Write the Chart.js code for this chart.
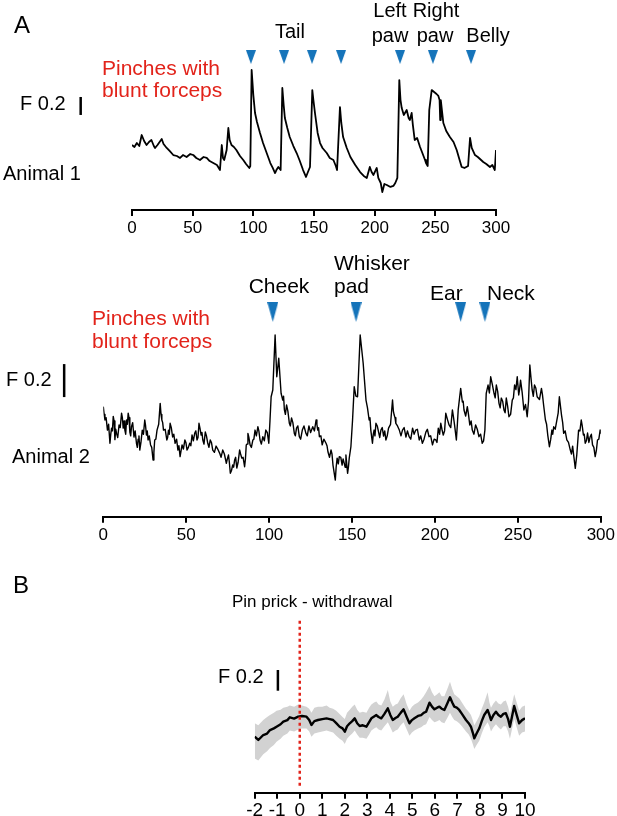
<html>
  <head>
    <title>pinch responses</title>
    <style>
      body {
        margin: 0;
        background: #fff;
        width: 617px;
        height: 816px;
        position: relative;
        overflow: hidden;
        font-family: Arial, 'Liberation Sans', Helvetica, sans-serif;
      }
      canvas {
        position: absolute;
        left: 0;
        top: 0;
      }
      .lbl {
        position: absolute;
        line-height: 1;
        white-space: nowrap;
        color: #000;
      }
    </style>
    <script src="https://cdn.jsdelivr.net/npm/chart.js@4.4.0/dist/chart.umd.min.js"></script>
    <script>
      // Animal 1 trace: [time (s), dF/F]
      const animal1Trace = [
        [0, 0.722], [2, 0.7], [4, 0.744], [6, 0.711], [8, 0.833], [10, 0.767], [12, 0.722], [14, 0.756],
        [16, 0.778], [18, 0.711], [19, 0.689], [21, 0.722], [24.5, 0.789], [26, 0.733], [28.6, 0.689],
        [31, 0.656], [34, 0.611], [37, 0.6], [39.6, 0.578], [42, 0.611], [45, 0.589], [48, 0.622], [50.5, 0.611],
        [53, 0.578], [56, 0.556], [59, 0.589], [61.6, 0.578], [64, 0.544], [67, 0.522], [70, 0.5], [72.5, 0.444],
        [74, 0.722], [75, 0.578], [76, 0.556], [78, 0.667], [79.4, 0.911], [80.5, 0.778], [82, 0.722], [84, 0.7],
        [86, 0.667], [89, 0.6], [91.7, 0.556], [94, 0.511], [96.7, 0.467], [97.5, 0.489], [98.6, 1.556],
        [100, 1.278], [101.4, 1.078], [103, 0.978], [105.5, 0.856], [108, 0.744], [111, 0.633], [114, 0.522],
        [116, 0.467], [117.9, 0.411], [119, 0.444], [120.6, 0.478], [122.5, 0.444], [123.9, 1.356], [125, 1.167],
        [126, 1.022], [128, 0.911], [130, 0.811], [133, 0.711], [135.7, 0.633], [138, 0.556], [141, 0.444],
        [143.4, 0.367], [145, 0.422], [146.7, 0.478], [148.6, 1.333], [149.5, 1.222], [150.8, 1.078], [153, 0.856],
        [155, 0.744], [157, 0.689], [160.5, 0.633], [163, 0.578], [166, 0.556], [168, 0.489], [169, 0.444],
        [171.4, 1.144], [172.5, 0.967], [174, 0.811], [177, 0.689], [180, 0.589], [184, 0.5], [188, 0.422],
        [191, 0.378], [193.5, 0.356], [196, 0.478], [197.5, 0.422], [199, 0.389], [201.7, 0.467], [203, 0.356],
        [205, 0.3], [206.3, 0.2], [208, 0.289], [210, 0.278], [213, 0.256], [215.4, 0.267], [217, 0.3],
        [218.7, 0.356], [220.3, 1.444], [221.3, 1.222], [222.3, 1.133], [224, 1.056], [226.4, 1.111], [228, 1.022],
        [229, 1.0], [230.5, 1.078], [231.5, 0.944], [233, 0.778], [235, 0.8], [237.4, 0.7], [239, 0.644],
        [241.5, 0.556], [242.3, 0.522], [243.7, 0.489], [245, 1.111], [247, 1.333], [249, 1.311], [251, 1.289],
        [252.5, 1.267], [253.5, 1.222], [254, 1.0], [254.5, 1.222], [256.6, 0.967], [259, 0.878], [262, 0.811],
        [265, 0.756], [267.6, 0.667], [270, 0.556], [271.7, 0.478], [274, 0.467], [277, 0.489], [278.6, 0.8],
        [280, 0.689], [282.7, 0.611], [285, 0.589], [289.5, 0.533], [292, 0.511], [295, 0.478], [297, 0.5],
        [299, 0.444], [300, 0.667]
      ];
      const animal1Pinch = [98, 125.3, 148.4, 172.3, 220.9, 248, 279.4];

      // Animal 2 trace: [time (s), dF/F]
      const animal2Trace = [
        [0, 0.667], [0.5, 0.62], [1, 0.586], [1.7, 0.6], [2.5, 0.525], [3.2, 0.56], [4, 0.445], [4.5, 0.5],
        [5, 0.537], [5.5, 0.52], [6, 0.608], [6.5, 0.58], [7, 0.467], [7.5, 0.53], [8, 0.505], [8.7, 0.48],
        [9.5, 0.556], [10.2, 0.54], [11, 0.627], [11.5, 0.6], [12, 0.537], [12.5, 0.58], [13, 0.525], [13.5, 0.5],
        [14, 0.586], [14.5, 0.56], [15, 0.627], [15.5, 0.6], [16, 0.513], [16.5, 0.49], [17, 0.545], [17.7, 0.57],
        [18.5, 0.483], [19.2, 0.52], [20, 0.445], [20.5, 0.42], [21, 0.47], [21.5, 0.49], [22, 0.404],
        [22.7, 0.45], [23.5, 0.525], [24.2, 0.5], [25, 0.586], [25.5, 0.55], [26, 0.495], [26.5, 0.52],
        [27, 0.465], [27.7, 0.49], [28.5, 0.435], [29.2, 0.42], [30, 0.344], [30.5, 0.39], [31, 0.465],
        [31.7, 0.47], [32.4, 0.525], [33.4, 0.56], [34.3, 0.687], [34.8, 0.62], [35.3, 0.586], [35.8, 0.57],
        [36.3, 0.525], [37.3, 0.53], [38.3, 0.465], [38.8, 0.48], [39.3, 0.525], [39.8, 0.5], [40.3, 0.566],
        [41, 0.54], [41.8, 0.483], [42.5, 0.5], [43.3, 0.445], [44.2, 0.47], [45, 0.404], [45.6, 0.43],
        [46.3, 0.364], [46.9, 0.4], [47.5, 0.435], [48.3, 0.41], [49.2, 0.465], [49.8, 0.45], [50.5, 0.404],
        [51.3, 0.42], [52.1, 0.445], [52.8, 0.43], [53.5, 0.495], [54.3, 0.46], [55.1, 0.505], [55.8, 0.52],
        [56.5, 0.465], [57.1, 0.48], [57.7, 0.566], [58.4, 0.53], [59, 0.495], [59.5, 0.51], [60, 0.465],
        [60.7, 0.44], [61.5, 0.513], [62.2, 0.49], [63, 0.445], [63.7, 0.42], [64.5, 0.465], [65.2, 0.45],
        [66, 0.404], [67, 0.39], [68, 0.428], [69, 0.41], [70.2, 0.384], [71, 0.36], [72, 0.404], [73, 0.38],
        [74.2, 0.324], [74.8, 0.35], [75.5, 0.374], [76, 0.33], [76.6, 0.263], [77.3, 0.28], [78, 0.313],
        [78.6, 0.3], [79.2, 0.344], [79.8, 0.36], [80.5, 0.295], [81.3, 0.33], [82.2, 0.404], [82.8, 0.38],
        [83.5, 0.355], [84.3, 0.36], [85.2, 0.303], [85.7, 0.35], [86.2, 0.435], [86.7, 0.44], [87.2, 0.505],
        [87.8, 0.48], [88.5, 0.435], [89.3, 0.42], [90.2, 0.465], [90.8, 0.47], [91.5, 0.525], [92.3, 0.49],
        [93.2, 0.545], [93.8, 0.52], [94.5, 0.465], [95.3, 0.44], [96.2, 0.485], [97.1, 0.46], [98, 0.525],
        [98.9, 0.51], [99.8, 0.445], [100.5, 0.58], [101.2, 0.727], [102.2, 0.768], [103.6, 1.101],
        [104.6, 0.848], [105.8, 0.96], [107.2, 0.748], [108.2, 0.707], [108.7, 0.73], [109.2, 0.647],
        [109.8, 0.62], [110.5, 0.677], [111.3, 0.64], [112.2, 0.566], [112.8, 0.55], [113.5, 0.598],
        [114.3, 0.57], [115.2, 0.505], [115.8, 0.49], [116.5, 0.537], [117.3, 0.55], [118.2, 0.485], [119, 0.47],
        [120, 0.525], [121, 0.55], [122.2, 0.505], [123, 0.49], [124, 0.55], [125, 0.51], [126.3, 0.545],
        [127.3, 0.52], [128.3, 0.586], [128.8, 0.56], [129.3, 0.525], [129.8, 0.54], [130.3, 0.485],
        [131.2, 0.49], [132, 0.435], [133, 0.47], [134.3, 0.445], [134.9, 0.43], [135.5, 0.392], [136.4, 0.36],
        [137.3, 0.404], [137.9, 0.38], [138.5, 0.313], [139.9, 0.222], [140.4, 0.3], [141, 0.355], [141.7, 0.32],
        [142.3, 0.364], [143.2, 0.36], [144, 0.313], [144.6, 0.35], [145.3, 0.323], [145.8, 0.3], [146.3, 0.374],
        [147.3, 0.263], [147.8, 0.3], [148.3, 0.355], [149.3, 0.424], [150.3, 0.586], [151.3, 0.788],
        [152.3, 0.731], [153.3, 0.727], [154.9, 1.101], [156.7, 0.93], [158.4, 0.707], [159.3, 0.66],
        [160.3, 0.586], [160.8, 0.6], [161.3, 0.525], [162.3, 0.445], [162.8, 0.5], [163.3, 0.525],
        [163.8, 0.49], [164.4, 0.566], [165.2, 0.55], [166, 0.513], [166.7, 0.48], [167.4, 0.525], [168.2, 0.54],
        [169, 0.489], [169.7, 0.52], [170.4, 0.465], [171.2, 0.49], [172, 0.537], [173.2, 0.56], [174.4, 0.707],
        [174.9, 0.64], [175.4, 0.616], [175.9, 0.6], [176.4, 0.566], [177.4, 0.55], [178.5, 0.525],
        [179.5, 0.49], [180.4, 0.525], [181.4, 0.54], [182.5, 0.483], [183.4, 0.52], [184.4, 0.485],
        [185.4, 0.47], [186.5, 0.537], [187.4, 0.5], [188.4, 0.525], [189.4, 0.53], [190.5, 0.465],
        [191.4, 0.49], [192.4, 0.445], [193.4, 0.47], [194.5, 0.513], [195.4, 0.53], [196.4, 0.485],
        [197.4, 0.49], [198.5, 0.435], [199.5, 0.47], [200.5, 0.465], [201.2, 0.45], [202, 0.537], [202.8, 0.5],
        [203.5, 0.566], [204.2, 0.53], [205, 0.495], [205.8, 0.52], [206.5, 0.627], [207.5, 0.59],
        [208.5, 0.556], [209.5, 0.54], [210.5, 0.647], [211.2, 0.6], [211.8, 0.556], [212.9, 0.465],
        [213.5, 0.56], [214, 0.647], [215.5, 0.778], [216.5, 0.695], [217, 0.7], [217.5, 0.647], [218.5, 0.61],
        [219.5, 0.667], [220.2, 0.62], [221, 0.556], [221.8, 0.58], [222.5, 0.525], [223.5, 0.5], [224.5, 0.556],
        [225.5, 0.53], [226.5, 0.485], [227.5, 0.5], [228.5, 0.445], [229.3, 0.46], [230.1, 0.525],
        [230.9, 0.748], [232, 0.798], [232.8, 0.75], [233.6, 0.848], [234.6, 0.8], [235.6, 0.748], [236.3, 0.72],
        [237, 0.798], [237.8, 0.76], [238.6, 0.687], [239.3, 0.66], [240, 0.719], [240.8, 0.7], [241.6, 0.647],
        [242.3, 0.63], [243, 0.719], [243.8, 0.67], [244.6, 0.606], [245.6, 0.62], [246.6, 0.707], [247.3, 0.72],
        [248, 0.798], [248.8, 0.77], [249.6, 0.848], [250.5, 0.738], [251, 0.77], [251.6, 0.828], [252.6, 0.75],
        [253.6, 0.647], [254.6, 0.68], [255.6, 0.606], [256.4, 0.7], [257.2, 0.919], [257.9, 0.84],
        [258.6, 0.768], [259.3, 0.73], [260, 0.798], [260.8, 0.78], [261.6, 0.727], [263, 0.71], [264.2, 0.778],
        [264.8, 0.74], [265.5, 0.677], [266.6, 0.586], [267.3, 0.56], [268, 0.495], [269, 0.424], [269.8, 0.47],
        [270.5, 0.525], [271, 0.5], [271.6, 0.545], [272.5, 0.53], [273.5, 0.586], [274.3, 0.63], [275, 0.727],
        [276.3, 0.616], [277, 0.57], [277.6, 0.505], [278.5, 0.52], [279.5, 0.465], [280.5, 0.45],
        [281.6, 0.404], [282.3, 0.38], [283, 0.428], [283.8, 0.36], [284.6, 0.293], [285.5, 0.374],
        [286.6, 0.525], [287.4, 0.52], [288.2, 0.586], [288.8, 0.55], [289.5, 0.495], [290, 0.5], [290.6, 0.445],
        [291.3, 0.46], [292, 0.507], [292.8, 0.45], [293.6, 0.485], [294.3, 0.5], [295, 0.435], [295.8, 0.42],
        [296.6, 0.364], [297.3, 0.4], [298, 0.465], [298.8, 0.47], [299.6, 0.525], [300, 0.507]
      ];
      const animal2Pinch = [102.2, 152.4, 215.5, 230.1];

      const traceTicks = [0, 50, 100, 150, 200, 250, 300];

      // B, pin prick - withdrawal: [time (s), mean, upper, lower] in dF/F
      const pinTrace = [
        [-2, -0.19, -0.06, -0.4], [-1.84, -0.222, -0.08, -0.42], [-1.62, -0.174, -0.03, -0.36],
        [-1.45, -0.16, 0.0, -0.33], [-1.32, -0.126, 0.02, -0.3], [-1.15, -0.11, 0.04, -0.27],
        [-1.03, -0.094, 0.06, -0.24], [-0.85, -0.07, 0.07, -0.21], [-0.73, -0.045, 0.09, -0.18],
        [-0.55, -0.03, 0.1, -0.16], [-0.44, -0.003, 0.11, -0.13], [-0.25, -0.015, 0.1, -0.14],
        [-0.07, 0.003, 0.12, -0.12], [0.1, 0.01, 0.11, -0.11], [0.3, 0.003, 0.1, -0.11], [0.42, -0.03, 0.08, -0.14],
        [0.52, -0.077, 0.04, -0.19], [0.65, -0.04, 0.09, -0.16], [0.81, -0.029, 0.1, -0.15], [1.0, -0.02, 0.1, -0.14],
        [1.19, -0.013, 0.11, -0.13], [1.33, -0.02, 0.09, -0.14], [1.48, -0.029, 0.08, -0.15],
        [1.62, -0.06, 0.06, -0.18], [1.77, -0.094, 0.03, -0.21], [1.9, -0.11, 0.0, -0.23], [2.0, -0.142, -0.02, -0.26],
        [2.1, -0.09, 0.04, -0.21], [2.22, -0.061, 0.07, -0.18], [2.33, -0.04, 0.1, -0.16], [2.44, -0.013, 0.12, -0.13],
        [2.55, -0.06, 0.07, -0.17], [2.66, -0.087, 0.04, -0.2], [2.8, -0.08, 0.05, -0.2], [2.96, -0.094, 0.04, -0.21],
        [3.08, -0.05, 0.09, -0.17], [3.18, -0.013, 0.12, -0.13], [3.3, 0.005, 0.14, -0.11], [3.4, 0.019, 0.15, -0.1],
        [3.5, 0.0, 0.12, -0.12], [3.62, -0.013, 0.11, -0.13], [3.76, 0.03, 0.17, -0.09], [3.91, 0.084, 0.26, -0.05],
        [4.02, 0.02, 0.15, -0.1], [4.13, -0.029, 0.1, -0.15], [4.25, -0.01, 0.12, -0.13], [4.35, 0.003, 0.13, -0.12],
        [4.48, 0.04, 0.18, -0.08], [4.61, 0.074, 0.22, -0.05], [4.75, 0.0, 0.12, -0.12], [4.87, -0.061, 0.06, -0.18],
        [4.98, -0.03, 0.1, -0.15], [5.09, -0.013, 0.12, -0.13], [5.25, 0.01, 0.14, -0.11], [5.39, 0.019, 0.17, -0.1],
        [5.5, 0.04, 0.2, -0.08], [5.61, 0.051, 0.24, -0.07], [5.76, 0.138, 0.3, 0.0], [5.87, 0.1, 0.24, -0.03],
        [5.98, 0.074, 0.2, -0.05], [6.1, 0.09, 0.22, -0.04], [6.2, 0.1, 0.24, -0.03], [6.3, 0.08, 0.2, -0.05],
        [6.42, 0.068, 0.2, -0.06], [6.55, 0.13, 0.27, -0.01], [6.67, 0.19, 0.34, 0.04], [6.77, 0.14, 0.27, 0.0],
        [6.86, 0.1, 0.22, -0.03], [6.97, 0.09, 0.2, -0.04], [7.08, 0.068, 0.18, -0.06], [7.2, 0.03, 0.14, -0.09],
        [7.38, -0.029, 0.08, -0.14], [7.5, -0.06, 0.05, -0.17], [7.6, -0.094, 0.02, -0.21],
        [7.68, -0.15, -0.03, -0.26], [7.75, -0.206, -0.08, -0.31], [7.85, -0.16, -0.04, -0.27],
        [7.97, -0.109, 0.01, -0.23], [8.08, -0.04, 0.08, -0.16], [8.19, 0.019, 0.14, -0.1], [8.34, 0.068, 0.24, -0.05],
        [8.42, 0.02, 0.14, -0.09], [8.49, -0.029, 0.09, -0.14], [8.6, 0.02, 0.13, -0.1], [8.71, 0.051, 0.16, -0.07],
        [8.82, 0.02, 0.13, -0.1], [8.93, 0.003, 0.12, -0.12], [9.04, 0.03, 0.15, -0.09], [9.15, 0.036, 0.16, -0.09],
        [9.25, -0.02, 0.1, -0.14], [9.33, -0.094, 0.03, -0.21], [9.42, 0.0, 0.12, -0.12], [9.52, 0.106, 0.22, -0.02],
        [9.63, 0.02, 0.14, -0.1], [9.74, -0.061, 0.06, -0.18], [9.87, -0.03, 0.1, -0.15], [10, -0.013, 0.11, -0.14]
      ];
      const pinTicks = [-2, -1, 0, 1, 2, 3, 4, 5, 6, 7, 8, 9, 10];

      const scaleBar = 0.2;
      const FONT = "Arial, 'Liberation Sans', Helvetica, sans-serif";
      const BLUE = '#1574ba';
      const RED = '#e2231a';

      const pts = (rows, col) => rows.map((r) => ({ x: r[0], y: r[col] }));

      function arrowImage(w, h) {
        const c = document.createElement('canvas');
        c.width = w;
        c.height = h;
        const g = c.getContext('2d');
        g.fillStyle = BLUE;
        g.beginPath();
        g.moveTo(0, 0);
        g.lineTo(w, 0);
        g.lineTo(w / 2, h);
        g.closePath();
        g.fill();
        return c;
      }

      function xAxis(min, max, ticks, fontSize, height, padding) {
        return {
          type: 'linear',
          position: 'bottom',
          min: min,
          max: max,
          afterBuildTicks: (s) => {
            s.ticks = ticks.map((v) => ({ value: v }));
          },
          afterFit: (s) => {
            s.height = height;
          },
          border: { display: true, color: '#000', width: 2 },
          grid: { drawOnChartArea: false, color: '#000', lineWidth: 2, tickLength: 6 },
          ticks: {
            color: '#000',
            padding: padding,
            maxRotation: 0,
            autoSkip: false,
            font: { family: FONT, size: fontSize },
          },
        };
      }

      function baseOptions(pad, x, yMin, yMax) {
        return {
          responsive: false,
          animation: false,
          events: [],
          layout: { padding: pad },
          plugins: { legend: { display: false }, tooltip: { enabled: false } },
          elements: { point: { radius: 0 }, line: { tension: 0 } },
          scales: { x: x, y: { display: false, min: yMin, max: yMax } },
        };
      }

      function trace(rows, col, width) {
        return {
          data: pts(rows, col),
          borderColor: '#000',
          borderWidth: width,
          borderJoinStyle: 'round',
          pointRadius: 0,
        };
      }

      function bar(x, y0) {
        return {
          data: [
            { x: x, y: y0 },
            { x: x, y: y0 + scaleBar },
          ],
          borderColor: '#000',
          borderWidth: 2.5,
          pointRadius: 0,
          clip: false,
        };
      }

      function pinches(times, y, img) {
        return {
          data: times.map((t) => ({ x: t, y: y })),
          showLine: false,
          pointStyle: img,
          pointRadius: 5,
          clip: false,
        };
      }

      function addLabel(text, x, base, size, color, align) {
        const d = document.createElement('div');
        d.className = 'lbl';
        d.textContent = text;
        d.style.fontSize = size + 'px';
        d.style.top = base - 0.8465 * size + 'px';
        d.style.left = x + 'px';
        if (color) d.style.color = color;
        if (align === 'center') d.style.transform = 'translateX(-50%)';
        document.body.appendChild(d);
      }

      document.addEventListener('DOMContentLoaded', function () {
        new Chart(document.getElementById('c1'), {
          type: 'line',
          data: {
            datasets: [
              trace(animal1Trace, 1, 1.8),
              bar(-42.3, 1.056),
              pinches(animal1Pinch, 1.7, arrowImage(10, 14)),
            ],
          },
          options: baseOptions(
            { left: 132, right: 121, top: 40, bottom: 566 },
            xAxis(0, 300, traceTicks, 17, 40, 2),
            0,
            1.889
          ),
        });

        new Chart(document.getElementById('c2'), {
          type: 'line',
          data: {
            datasets: [
              trace(animal2Trace, 1, 1.4),
              bar(-23.6, 0.725),
              pinches(animal2Pinch, 1.241, arrowImage(11, 20)),
            ],
          },
          options: baseOptions(
            { left: 103.3, right: 14.7, top: 290, bottom: 259.3 },
            xAxis(0, 300, traceTicks, 17, 40, 2),
            0,
            1.374
          ),
        });

        new Chart(document.getElementById('c3'), {
          type: 'line',
          data: {
            datasets: [
              {
                data: [
                  { x: 0, y: 0.93 },
                  { x: 0, y: -0.67 },
                ],
                borderColor: RED,
                borderWidth: 2.5,
                borderDash: [3, 3],
                pointRadius: 0,
              },
              trace(pinTrace, 1, 2.4),
              {
                data: pts(pinTrace, 2),
                borderWidth: 0,
                borderColor: 'rgba(0,0,0,0)',
                backgroundColor: '#d2d2d2',
                fill: '+1',
                pointRadius: 0,
              },
              {
                data: pts(pinTrace, 3),
                borderWidth: 0,
                borderColor: 'rgba(0,0,0,0)',
                pointRadius: 0,
              },
              bar(-0.97, 0.254),
            ],
          },
          options: baseOptions(
            { left: 254.7, right: 92, top: 620, bottom: 0 },
            xAxis(-2, 10, pinTicks, 19, 23.3, 1),
            -0.7314,
            0.9372
          ),
        });

        // panel A, animal 1
        addLabel('A', 14, 33, 24);
        addLabel('Pinches with', 102, 75, 21, RED);
        addLabel('blunt forceps', 102, 97, 21, RED);
        addLabel('F 0.2', 20, 110, 20);
        addLabel('Animal 1', 3, 180, 20);
        addLabel('Tail', 290, 38, 20, null, 'center');
        addLabel('Left', 390, 17, 20, null, 'center');
        addLabel('paw', 390, 42, 20, null, 'center');
        addLabel('Right', 436, 17, 20, null, 'center');
        addLabel('paw', 435, 42, 20, null, 'center');
        addLabel('Belly', 488, 42, 20, null, 'center');

        // panel A, animal 2
        addLabel('Pinches with', 92, 325, 21, RED);
        addLabel('blunt forceps', 92, 348, 21, RED);
        addLabel('F 0.2', 6, 386, 20);
        addLabel('Animal 2', 12, 463, 20);
        addLabel('Cheek', 279, 293, 21, null, 'center');
        addLabel('Whisker', 334, 270, 21);
        addLabel('pad', 334, 293, 21);
        addLabel('Ear', 430, 300, 21);
        addLabel('Neck', 487, 300, 21);

        // panel B
        addLabel('B', 13, 593, 24);
        addLabel('Pin prick - withdrawal', 232, 607, 17);
        addLabel('F 0.2', 218, 683, 20);
      });
    </script>
  </head>
  <body>
    <canvas id="c1" width="617" height="816"></canvas>
    <canvas id="c2" width="617" height="816"></canvas>
    <canvas id="c3" width="617" height="816"></canvas>
  </body>
</html>
